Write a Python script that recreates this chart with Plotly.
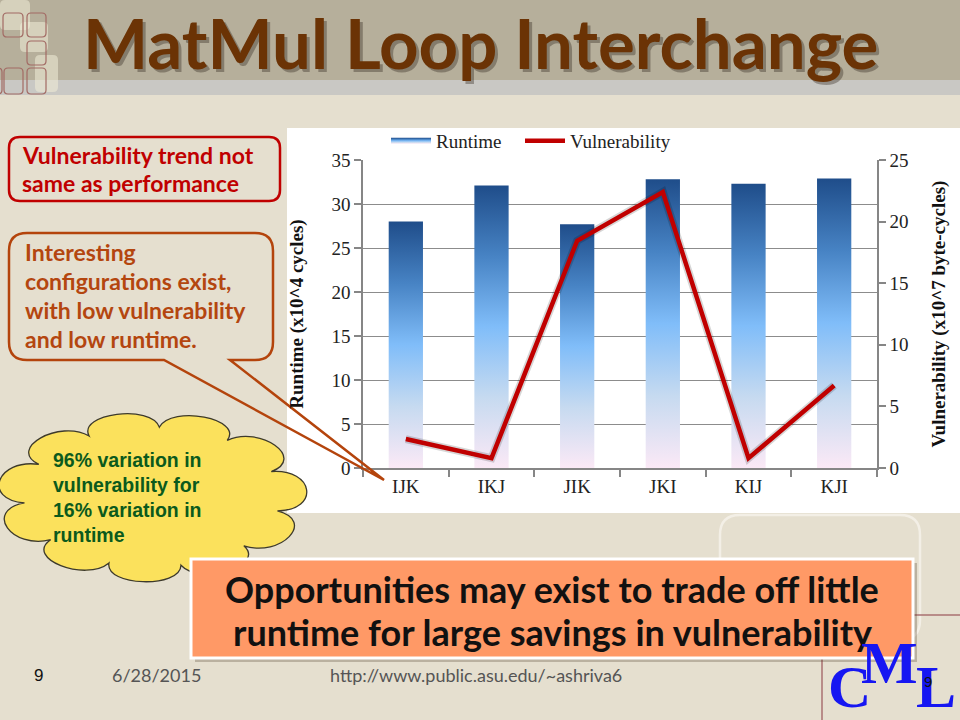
import plotly.graph_objects as go
import numpy as np

# ---------------- data ----------------
categories = ["IJK", "IKJ", "JIK", "JKI", "KIJ", "KJI"]
runtime = [28.0, 32.1, 27.7, 32.8, 32.3, 32.9]          # x10^4 cycles
vulnerability = [2.35, 0.8, 18.45, 22.4, 0.8, 6.7]       # x10^7 byte-cycles
runtime_ticks = [0, 5, 10, 15, 20, 25, 30, 35]
vuln_ticks = [0, 5, 10, 15, 20, 25]

W, H = 960, 720
BG = "#e5dfcf"

def px(x):
    return x / W

def py(y):
    return 1 - y / H

fig = go.Figure()

# ---------------- bars (gradient filled) ----------------
bar_half = 0.2
grad = [[0.0, "#fbe9f6"], [0.25, "#c6daf0"], [0.5, "#80bdf9"],
        [0.75, "#4783c4"], [1.0, "#1f4d8a"]]
for i, (c, v) in enumerate(zip(categories, runtime)):
    fig.add_trace(go.Scatter(
        x=[i - bar_half, i - bar_half, i + bar_half, i + bar_half, i - bar_half],
        y=[0, v, v, 0, 0],
        mode="none", fill="toself",
        fillgradient=dict(type="vertical", colorscale=grad),
        name="Runtime", legendgroup="rt", showlegend=(i == 0), legend="legend",
        hoverinfo="skip", yaxis="y"))

# ---------------- line ----------------
fig.add_trace(go.Scatter(
    x=list(range(len(categories))), y=vulnerability, mode="lines",
    line=dict(color="rgba(0,0,0,0.16)", width=8),
    showlegend=False, hoverinfo="skip", yaxis="y2"))
fig.add_trace(go.Scatter(
    x=list(range(len(categories))), y=vulnerability, mode="lines",
    line=dict(color="#c00000", width=4.5),
    name="Vulnerability", yaxis="y2", hoverinfo="skip", legend="legend2"))

serif = "Liberation Serif"
axis_grey = "#868686"
legend_style = dict(orientation="h", yanchor="middle", xanchor="left",
                    font=dict(family=serif, size=19, color="#222"),
                    bgcolor="rgba(0,0,0,0)", itemwidth=40)

fig.update_layout(
    width=W, height=H,
    margin=dict(l=0, r=0, t=0, b=0),
    paper_bgcolor=BG, plot_bgcolor="rgba(0,0,0,0)",
    showlegend=True,
    legend=dict(x=px(386), y=py(141), **legend_style),
    legend2=dict(x=px(520), y=py(141), **legend_style),
    xaxis=dict(domain=[px(363), px(877)], range=[-0.5, 5.5],
               tickmode="array", tickvals=list(range(len(categories))), ticktext=categories,
               ticks="", showgrid=False, zeroline=False,
               showline=True, linecolor=axis_grey, linewidth=1.5,
               tickfont=dict(family=serif, size=19, color="#222"),
               minor=dict(tickmode="array", tickvals=[k - 0.5 for k in range(len(categories) + 1)],
                          ticks="outside", ticklen=7, tickcolor=axis_grey, tickwidth=1.5,
                          showgrid=False),
               automargin=False, fixedrange=True),
    yaxis=dict(domain=[py(468), py(160)], range=[0, 35],
               tickmode="array", tickvals=runtime_ticks,
               ticks="outside", ticklen=7, tickcolor=axis_grey, tickwidth=1.5,
               showgrid=True, gridcolor="#8c8c8c", gridwidth=1.3,
               zeroline=False, showline=True, linecolor=axis_grey, linewidth=1.5,
               tickfont=dict(family=serif, size=19, color="#222"),
               title=dict(text="<b>Runtime (x10^4 cycles)</b>", standoff=23,
                          font=dict(family=serif, size=19, color="#111")),
               automargin=False, fixedrange=True),
    yaxis2=dict(overlaying="y", side="right", range=[0, 25], anchor="x",
                tickmode="array", tickvals=vuln_ticks,
                ticks="outside", ticklen=7, tickcolor=axis_grey, tickwidth=1.5,
                showgrid=False, zeroline=False, showline=True, linecolor=axis_grey, linewidth=1.5,
                tickfont=dict(family=serif, size=19, color="#222"),
                title=dict(text="<b>Vulnerability (x10^7 byte-cycles)</b>", standoff=24,
                           font=dict(family=serif, size=19, color="#111")),
                automargin=False, fixedrange=True),
)

shapes = []

def rect(x0, y0, x1, y1, fill, line=None, lw=0, layer="below"):
    return dict(type="rect", xref="paper", yref="paper",
                x0=px(x0), x1=px(x1), y0=py(y1), y1=py(y0),
                fillcolor=fill, line=dict(color=line or "rgba(0,0,0,0)", width=lw),
                layer=layer)

def rrect_path(x0, y0, x1, y1, r):
    P = lambda x, y: f"{px(x):.5f},{py(y):.5f}"
    return (f"M{P(x0 + r, y0)} L{P(x1 - r, y0)} Q{P(x1, y0)} {P(x1, y0 + r)} "
            f"L{P(x1, y1 - r)} Q{P(x1, y1)} {P(x1 - r, y1)} L{P(x0 + r, y1)} "
            f"Q{P(x0, y1)} {P(x0, y1 - r)} L{P(x0, y0 + r)} Q{P(x0, y0)} {P(x0 + r, y0)} Z")

def path_shape(path, fill, line, lw, layer="above"):
    return dict(type="path", xref="paper", yref="paper", path=path,
                fillcolor=fill, line=dict(color=line, width=lw), layer=layer)

# title band
shapes.append(rect(0, 0, 960, 80, "#b6af9b"))
shapes.append(rect(0, 80, 960, 95, "#c9c8c4"))
# decorative squares top-left
for (x0, y0, x1, y1) in [(0, 0, 30, 30), (20, 22, 48, 52), (35, 55, 58, 92)]:
    shapes.append(path_shape(rrect_path(x0, y0, x1, y1, 5), "rgba(240,236,215,0.55)",
                             "rgba(0,0,0,0)", 0, layer="below"))
for (x0, y0, x1, y1) in [(3, 13, 23, 37), (27, 13, 46, 37), (27, 41, 46, 65),
                         (4, 68, 23, 94), (27, 68, 46, 94), (-8, 68, 2, 94)]:
    shapes.append(path_shape(rrect_path(x0, y0, x1, y1, 4), "rgba(0,0,0,0)",
                             "#a26a64", 1.2, layer="below"))

# chart white panel
shapes.append(rect(287, 128, 960, 513, "white"))

# light rounded rect near logo
shapes.append(path_shape(rrect_path(720, 515, 920, 640, 20), "rgba(0,0,0,0)",
                         "#f3efe6", 2.5, layer="below"))
# thin red-brown lines near logo
shapes.append(dict(type="line", xref="paper", yref="paper", x0=px(822), x1=px(822),
                   y0=py(615), y1=py(720), line=dict(color="#a87070", width=1.5), layer="below"))
shapes.append(dict(type="line", xref="paper", yref="paper", x0=px(822), x1=px(960),
                   y0=py(615), y1=py(615), line=dict(color="#a87070", width=1.5), layer="below"))

# red box
shapes.append(path_shape(rrect_path(9, 137, 280, 201, 11), "rgba(0,0,0,0)", "#c00000", 2.5))

# callout box with pointer
def callout_path(x0, y0, x1, y1, r, b0, b1, tip):
    P = lambda x, y: f"{px(x):.5f},{py(y):.5f}"
    return (f"M{P(x0 + r, y0)} L{P(x1 - r, y0)} Q{P(x1, y0)} {P(x1, y0 + r)} "
            f"L{P(x1, y1 - r)} Q{P(x1, y1)} {P(x1 - r, y1)} L{P(b1, y1)} L{P(*tip)} "
            f"L{P(b0, y1)} L{P(x0 + r, y1)} "
            f"Q{P(x0, y1)} {P(x0, y1 - r)} L{P(x0, y0 + r)} Q{P(x0, y0)} {P(x0 + r, y0)} Z")

shapes.append(path_shape(callout_path(9, 233, 273, 360, 18, 164, 230, (384, 480)),
                         "rgba(0,0,0,0)", "#b4440c", 2.5))

# cloud
def cloud_path(cx, cy, rx, ry, n, bump):
    P = lambda x, y: f"{px(x):.5f},{py(y):.5f}"
    angs = np.linspace(0.2, 0.2 + 2 * np.pi, n + 1)
    pts = [(cx + rx * np.cos(a), cy + ry * np.sin(a)) for a in angs]
    s = f"M{P(*pts[0])}"
    for k in range(n):
        a0, a1 = angs[k], angs[k + 1]
        c0 = (cx + rx * bump * np.cos(a0 + 0.06), cy + ry * bump * np.sin(a0 + 0.06))
        c1 = (cx + rx * bump * np.cos(a1 - 0.06), cy + ry * bump * np.sin(a1 - 0.06))
        s += f" C{P(*c0)} {P(*c1)} {P(*pts[k + 1])}"
    return s + " Z"

shapes.append(path_shape(cloud_path(152, 497, 128, 70, 11, 1.33), "#fbe15c", "#3d3a2c", 1.3))

# orange box with shadow
shapes.append(rect(195, 563, 917, 662, "rgba(60,40,20,0.25)", layer="above"))
shapes.append(rect(191, 559, 913, 658, "#ff9966", "white", 3, layer="above"))

fig.update_layout(shapes=shapes)

ann = []

def text(t, x, y, size, color, family="Lato", xanchor="left", yanchor="middle",
         align="left", bold=False):
    if bold:
        t = "<b>" + t + "</b>"
    ann.append(dict(text=t, x=px(x), y=py(y), xref="paper", yref="paper",
                    xanchor=xanchor, yanchor=yanchor, align=align, showarrow=False,
                    font=dict(family=family, size=size, color=color)))

# title with shadow
text("MatMul Loop Interchange", 483, 45, 69, "rgba(40,30,20,0.35)", xanchor="center", bold=True)
text("MatMul Loop Interchange", 480, 42, 69, "#6b3305", xanchor="center", bold=True)

for t, y in [("Vulnerability trend not", 155), ("same as performance", 183)]:
    text(t, 20, y, 23, "#c00000", bold=True)
for t, y in [("Interesting", 252), ("configurations exist,", 281),
             ("with low vulnerability", 310), ("and low runtime.", 339)]:
    text(t, 23, y, 23, "#b4460f", bold=True)
for t, y in [("96% variation in", 460), ("vulnerability for", 485),
             ("16% variation in", 510), ("runtime", 535)]:
    text(t, 51, y, 19.5, "#0b5a1c", family="Liberation Sans", bold=True)
for t, y in [("Opportunities may exist to trade off little", 589),
             ("runtime for large savings in vulnerability", 632)]:
    text(t, 552, y, 36, "#111111", xanchor="center", align="center", bold=True)

# footer
text("9", 32, 675, 17, "#111", family="Liberation Sans")
text("6/28/2015", 110, 675, 18, "#555", family="Lato")
text("http://www.public.asu.edu/~ashriva6", 328, 675, 18, "#555", family="Lato")

# logo
text("C", 826, 687, 60, "#1616f2", family="Liberation Serif", bold=True)
text("M", 859, 663, 60, "#1616f2", family="Liberation Serif", bold=True)
text("L", 914, 687, 60, "#1616f2", family="Liberation Serif", bold=True)
text("9", 922, 681, 15, "#111", family="Liberation Sans")

fig.update_layout(annotations=ann)

fig.write_html("out.html", config={"displayModeBar": False},
               post_script="document.body.style.margin='0px';")
